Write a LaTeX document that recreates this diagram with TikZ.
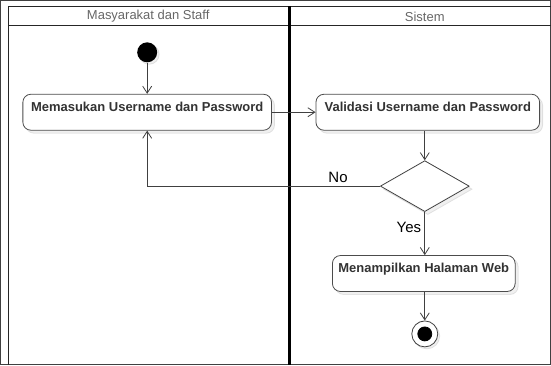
\documentclass[tikz,border=0pt]{standalone}
\usepackage{fontspec}
\setmainfont{Liberation Sans}
\usepackage{tikz}
\usetikzlibrary{shapes}
\usetikzlibrary{shapes.geometric}
\usetikzlibrary{arrows.meta}
\usetikzlibrary{shadows}
\tikzset{
	main node/.style={circle,fill=black,minimum size=20pt,inner sep=0pt,
		drop shadow={shadow xshift=2pt,shadow yshift=-2pt,opacity=0.12}},
	act node/.style={rectangle,draw=black!70,line width=0.8pt,rounded corners=8pt,fill=white,
		minimum height=36pt,inner xsep=4pt,inner ysep=3pt,text height=14pt,text depth=16pt,
		font=\fontsize{13}{15}\selectfont\bfseries,text=black!80,
		drop shadow={shadow xshift=3pt,shadow yshift=-3pt,opacity=0.12}},
	dec node/.style={diamond,draw=black!75,line width=0.8pt,fill=white,inner sep=0pt,
		minimum width=89pt,minimum height=51pt,
		drop shadow={shadow xshift=3pt,shadow yshift=-3pt,opacity=0.12}},
	end node/.style={circle,draw=black!75,line width=0.8pt,fill=white,minimum size=26pt,inner sep=0pt,
		path picture={\fill[black] (path picture bounding box.center) circle (7pt);},
		drop shadow={shadow xshift=2pt,shadow yshift=-2pt,opacity=0.12}},
	lane/.style={font=\fontsize{13}{15}\selectfont,text=black!60},
	guard/.style={font=\fontsize{15}{17}\selectfont,text=black}
}

\begin{document}
\begin{tikzpicture}[x=1pt,y=-1pt,>={Straight Barb[length=7pt,width=9pt]},
	    every path/.style={line width=0.8pt,draw=black!75}]
	    \useasboundingbox (0,0) rectangle (551,365);
	    % swimlanes
	    \draw[line width=1.4pt,draw=black!85] (8,365) -- (8,6) -- (560,6);
	    \draw[line width=1.2pt,draw=black!85] (8,25) -- (560,25);
	    \draw[line width=3pt,draw=black] (290,6) -- (290,365);
	    \node [lane] (l1) at (148,16) {Masyarakat dan Staff};
	    \node [lane] (l2) at (425,16) {Sistem};
	    % activities
	    \node [main node] (1) at (147,52) {};
	    \node [act node,minimum width=249pt] (2) at (147,112) {Memasukan Username dan Password};
	    \node [act node,minimum width=224pt] (3) at (428,112) {Validasi Username dan Password};
	    \node [dec node] (4) at (425,186) {};
	    \node [act node,minimum width=183pt] (5) at (424,273.5) {Menampilkan Halaman Web};
	    \node [end node] (6) at (425,334) {};
	    % flows
	    \draw[->] (1) -- (1 |- 2.north);
	    \draw[->] (2) -- (3);
	    \draw[->] (3.south -| 4) -- (4);
	    \draw[->] (4.west) -| node [guard,pos=0.09,above] {No} (2.south);
	    \draw[->] (4) -- node [guard,pos=0.36,left] {Yes} (4 |- 5.north);
	    \draw[->] (5.south -| 6) -- (6);
\end{tikzpicture}
\end{document}
